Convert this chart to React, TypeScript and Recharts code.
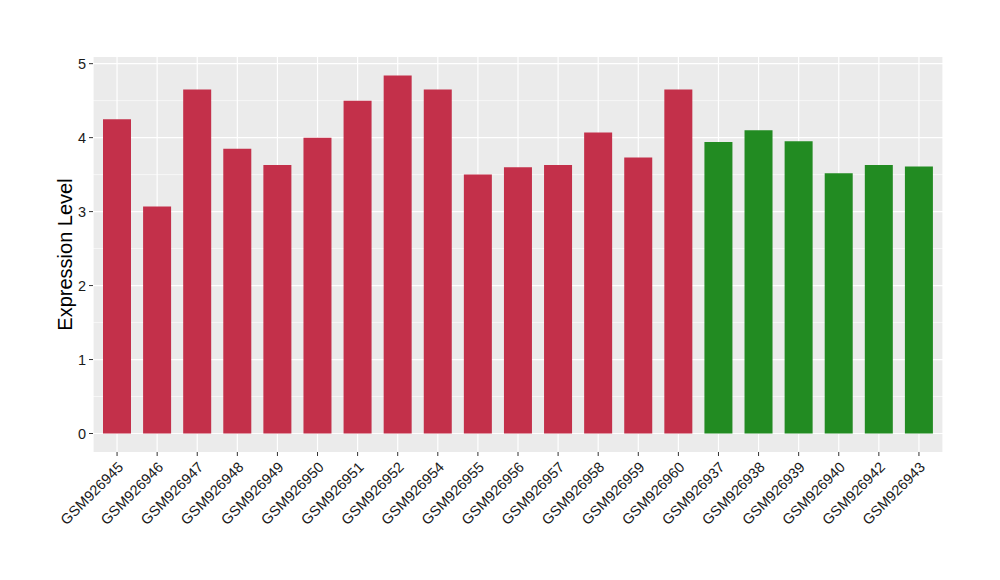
import { BarChart, Bar, XAxis, YAxis, CartesianGrid, Cell } from "recharts";

// sample ids, in plot order
const samples = [
  "GSM926945", "GSM926946", "GSM926947", "GSM926948", "GSM926949", "GSM926950",
  "GSM926951", "GSM926952", "GSM926954", "GSM926955", "GSM926956", "GSM926957",
  "GSM926958", "GSM926959", "GSM926960", "GSM926937", "GSM926938", "GSM926939",
  "GSM926940", "GSM926942", "GSM926943",
];

const expression = [
  4.25, 3.07, 4.65, 3.85, 3.63, 4.0,
  4.5, 4.84, 4.65, 3.5, 3.6, 3.63,
  4.07, 3.73, 4.65, 3.94, 4.1, 3.95,
  3.52, 3.63, 3.61,
];

// 0 = first group (red), 1 = second group (green)
const groups = [
  0, 0, 0, 0, 0, 0, 0, 0, 0, 0, 0, 0, 0, 0, 0,
  1, 1, 1, 1, 1, 1,
];

const yTicks = [0, 1, 2, 3, 4, 5];
const yMinor = [0.5, 1.5, 2.5, 3.5, 4.5];

const groupColors = ["#C3304A", "#228B22"];

const data = samples.map((s, i) => ({ sample: s, value: expression[i], group: groups[i] }));

const FONT = "'Liberation Sans', Arial, Helvetica, sans-serif";

function XTick(props: any) {
  const { x, y, payload } = props;
  return (
    <g transform={`translate(${x},${y + 3})`}>
      <text
        x={0}
        y={0}
        dy={10}
        textAnchor="end"
        transform="rotate(-45)"
        fontSize={14.5}
        fontFamily={FONT}
        fill="#1a1a1a"
      >
        {payload.value}
      </text>
    </g>
  );
}

export default function App() {
  return (
    <div style={{ position: "absolute", left: 0, top: 0, width: 1000, height: 580, background: "#fff" }}>
      <BarChart
        width={1000}
        height={580}
        data={data}
        margin={{ top: 57, right: 57, bottom: 0, left: 0 }}
        barCategoryGap={0}
      >
        <CartesianGrid
          fill="#EBEBEB"
          stroke="#FFFFFF"
          strokeWidth={0.6}
          vertical={false}
          horizontalValues={yMinor}
        />
        <CartesianGrid stroke="#FFFFFF" strokeWidth={1.2} horizontalValues={yTicks} />
        <XAxis
          dataKey="sample"
          interval={0}
          padding={{ left: 4, right: 4 }}
          axisLine={false}
          tickLine={{ stroke: "#333", strokeWidth: 1 }}
          tickSize={4}
          tick={<XTick />}
          height={128}
        />
        <YAxis
          type="number"
          domain={[-0.25, 5.09]}
          ticks={yTicks}
          allowDataOverflow
          width={93}
          axisLine={false}
          tickLine={{ stroke: "#333", strokeWidth: 1 }}
          tickSize={4}
          tickMargin={3}
          tick={{ fontSize: 14.5, fontFamily: FONT, fill: "#1a1a1a" }}
          label={{
            value: "Expression Level",
            angle: -90,
            position: "insideLeft",
            dx: 60,
            dy: 0,
            style: { fontSize: 20, fontFamily: FONT, fill: "#000", textAnchor: "middle" },
          }}
        />
        <Bar dataKey="value" barSize={28} isAnimationActive={false}>
          {data.map((d, i) => (
            <Cell key={d.sample} fill={groupColors[d.group]} />
          ))}
        </Bar>
      </BarChart>
    </div>
  );
}
